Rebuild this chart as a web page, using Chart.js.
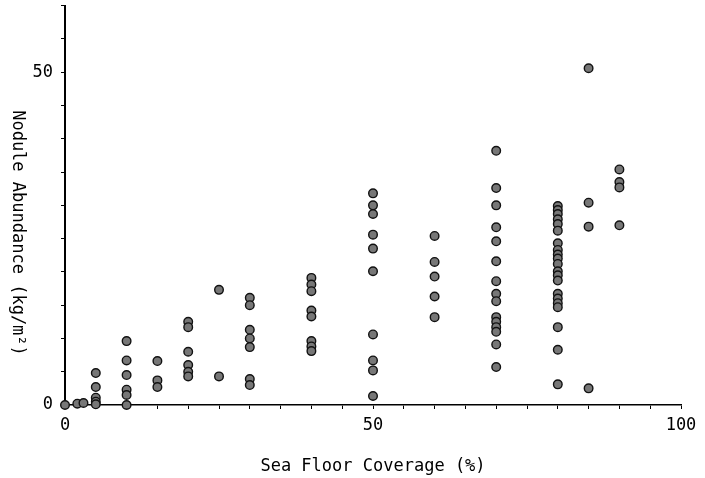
<!DOCTYPE html>
<html>
<head>
<meta charset="utf-8">
<script src="https://cdn.jsdelivr.net/npm/chart.js@4"></script>
<style>
html,body{margin:0;padding:0;background:#fff;}
#wrap{width:705px;height:478px;}
</style>
</head>
<body>
<div id="wrap"><canvas id="c" width="705" height="478"></canvas></div>
<script>
// Sea floor coverage (%) groups and the nodule abundance (kg/m2) values read at each
const coverage = [0, 2, 3, 5, 10, 15, 20, 25, 30, 40, 50, 60, 70, 80, 85, 90];
const abundance0  = [0];
const abundance2  = [0.2];
const abundance3  = [0.3];
const abundance5  = [4.8, 2.7, 1.1, 0.5, 0.1];
const abundance10 = [9.6, 6.7, 4.5, 2.3, 1.5, 0];
const abundance15 = [6.6, 3.7, 2.7];
const abundance20 = [12.5, 11.7, 8.0, 6.0, 5.0, 4.3];
const abundance25 = [17.3, 4.3];
const abundance30 = [16.1, 15.0, 11.3, 10.0, 8.7, 3.9, 3.0];
const abundance40 = [19.1, 18.1, 17.1, 14.2, 13.3, 9.6, 8.8, 8.1];
const abundance50 = [31.8, 30.0, 28.7, 25.6, 23.5, 20.1, 10.6, 6.7, 5.2, 1.35];
const abundance60 = [25.4, 21.5, 19.3, 16.3, 13.2];
const abundance70 = [38.2, 32.6, 30.0, 26.7, 24.6, 21.6, 18.6, 16.7, 15.6, 13.2, 12.5, 11.7, 11.0, 9.1, 5.7];
const abundance80 = [29.9, 29.3, 28.7, 27.9, 27.2, 26.2, 24.3, 23.3, 22.6, 22.0, 21.2, 20.1, 19.5, 18.7, 16.7, 16.0, 15.3, 14.7, 11.7, 8.3, 3.1];
const abundance85 = [50.6, 30.4, 26.8, 2.5];
const abundance90 = [35.4, 33.5, 32.7, 27.0];
const abundanceGroups = [abundance0, abundance2, abundance3, abundance5, abundance10, abundance15, abundance20, abundance25, abundance30, abundance40, abundance50, abundance60, abundance70, abundance80, abundance85, abundance90];

const xTickLabels = [0, 50, 100];
const yTickLabels = [0, 50];
const xTitle = 'Sea Floor Coverage (%)';
const yTitle = 'Nodule Abundance (kg/m\u00B2)';

const points = [];
coverage.forEach((cx, i) => abundanceGroups[i].forEach(v => points.push({x: cx, y: v})));

const FONT = '"DejaVu Sans Mono", "Liberation Mono", monospace';

const yTitlePlugin = {
  id: 'yTitle',
  afterDraw(chart) {
    const ctx = chart.ctx;
    ctx.save();
    ctx.translate(17, 233);
    ctx.rotate(Math.PI / 2);
    ctx.font = '17px ' + FONT;
    ctx.fillStyle = '#000';
    ctx.textAlign = 'center';
    ctx.textBaseline = 'middle';
    ctx.fillText(yTitle, 0, 0);
    ctx.restore();
  }
};

new Chart(document.getElementById('c'), {
  type: 'scatter',
  data: {
    datasets: [{
      data: points,
      clip: false,
      backgroundColor: '#777777',
      borderColor: '#111111',
      borderWidth: 1.4,
      pointRadius: 4.3,
      pointHoverRadius: 4.3
    }]
  },
  options: {
    responsive: false,
    animation: false,
    layout: {padding: {left: 0, right: 24, top: 4, bottom: 0}},
    plugins: {legend: {display: false}, tooltip: {enabled: false}},
    scales: {
      x: {
        type: 'linear', min: 0, max: 100,
        afterFit(s) { s.height = 73; s.paddingRight = 0; s.paddingLeft = 0; },
        border: {display: true, color: '#000', width: 1.6},
        grid: {display: true, drawOnChartArea: false, drawTicks: true, tickLength: 4, color: '#000', lineWidth: 1},
        ticks: {
          stepSize: 5, autoSkip: false, maxRotation: 0, padding: 6,
          color: '#000', font: {family: FONT, size: 17},
          callback: v => xTickLabels.includes(v) ? String(v) : ''
        },
        title: {display: true, text: xTitle, color: '#000', font: {family: FONT, size: 17}, padding: {top: 0, bottom: 1}}
      },
      y: {
        type: 'linear', min: 0, max: 60,
        afterFit(s) { s.width = 65; s.paddingTop = 0; s.paddingBottom = 0; },
        border: {display: true, color: '#000', width: 2},
        grid: {display: true, drawOnChartArea: false, drawTicks: true, tickLength: 4, color: '#000', lineWidth: 1},
        ticks: {
          stepSize: 5, autoSkip: false, padding: 8,
          color: '#000', font: {family: FONT, size: 17},
          callback: v => yTickLabels.includes(v) ? String(v) : ''
        }
      }
    }
  },
  plugins: [yTitlePlugin]
});
</script>
</body>
</html>
